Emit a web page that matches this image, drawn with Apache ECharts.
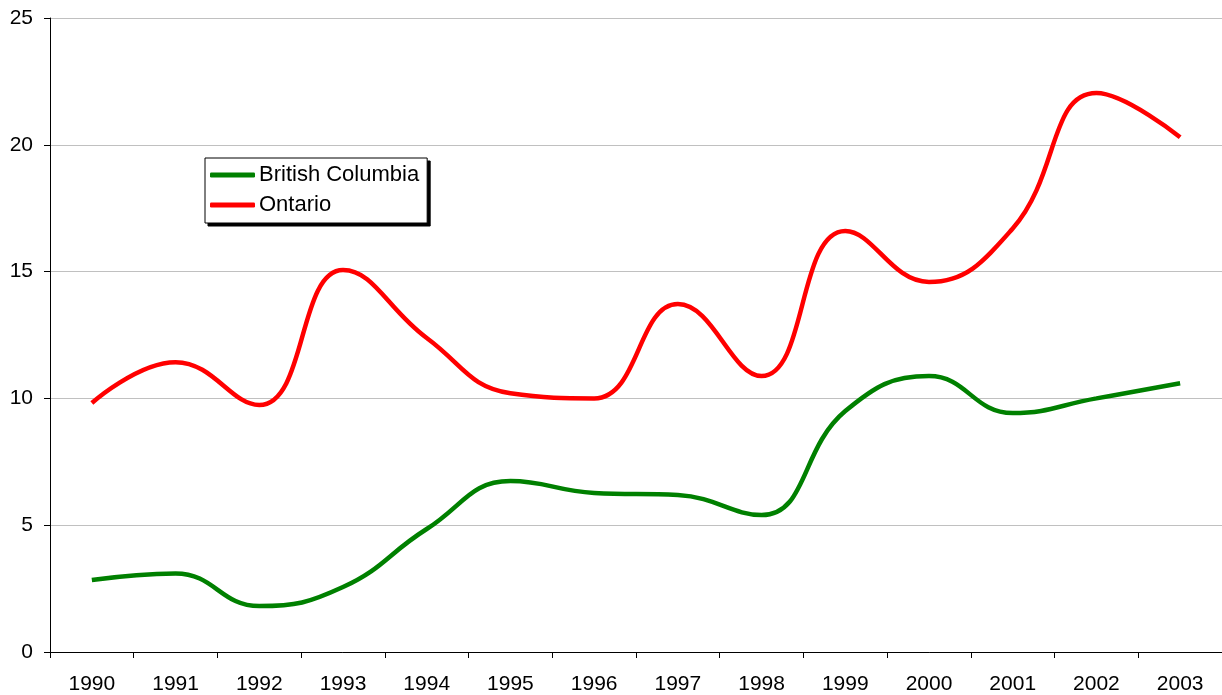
<!DOCTYPE html>
<html>
<head>
<meta charset="utf-8">
<script src="https://cdn.jsdelivr.net/npm/echarts@6/dist/echarts.min.js"></script>
<style>
  html, body { margin: 0; padding: 0; background: #fff; }
  #chart { width: 1222px; height: 695px; }
</style>
</head>
<body>
<div id="chart"></div>
<script>
// Chart data
const years = ['1990', '1991', '1992', '1993', '1994', '1995', '1996',
               '1997', '1998', '1999', '2000', '2001', '2002', '2003'];
const britishColumbia = [2.84, 3.1, 1.81, 2.56, 4.85, 6.74, 6.27, 6.19, 5.4, 9.5, 10.88, 9.42, 10.0, 10.6];
const ontario = [9.82, 11.43, 9.74, 15.06, 12.38, 10.2, 10.0, 13.72, 10.88, 16.6, 14.59, 16.7, 22.04, 20.3];
const yTicks = [0, 5, 10, 15, 20, 25];
const seriesNames = ['British Columbia', 'Ontario'];

const font = 'Liberation Sans, Arial, sans-serif';
const fontSize = 21;

// Shared legend settings (a solid black copy sits behind to act as drop shadow)
function makeLegend(left, top, isShadow) {
    return {
        orient: 'vertical',
        left: left,
        top: top,
        z: isShadow ? 3 : 4,
        padding: [6, 8, 7, 5],
        itemWidth: 45,
        itemHeight: 5,
        itemGap: 8,
        icon: 'roundRect',
        selectedMode: !isShadow,
        backgroundColor: isShadow ? '#000' : '#fff',
        borderColor: '#000',
        borderWidth: 1,
        borderRadius: 0,
        itemStyle: isShadow ? { opacity: 0 } : {},
        textStyle: {
            fontFamily: font,
            fontSize: 22,
            color: isShadow ? 'rgba(0,0,0,0)' : '#000',
            padding: [0, 0, 0, -1]
        },
        data: seriesNames
    };
}

const chart = echarts.init(document.getElementById('chart'));

chart.setOption({
    animation: false,
    backgroundColor: '#fff',
    grid: {
        left: 50,
        right: 0,
        top: 18,
        bottom: 43
    },
    legend: [
        makeLegend(208, 161, true),
        makeLegend(205, 158, false)
    ],
    xAxis: {
        type: 'category',
        data: years,
        boundaryGap: true,
        axisLine: { lineStyle: { color: '#000', width: 1 } },
        axisTick: { show: true, length: 6, lineStyle: { color: '#000' } },
        axisLabel: { fontFamily: font, fontSize: fontSize, color: '#000', margin: 22 },
        splitLine: { show: false }
    },
    yAxis: {
        type: 'value',
        min: yTicks[0],
        max: yTicks[yTicks.length - 1],
        interval: 5,
        axisLine: { show: true, lineStyle: { color: '#000', width: 1 } },
        axisTick: { show: true, length: 6, inside: false, lineStyle: { color: '#000' } },
        axisLabel: { fontFamily: font, fontSize: fontSize, color: '#000', margin: 17 },
        splitLine: { show: true, lineStyle: { color: '#c0c0c0', width: 1 } }
    },
    series: [
        {
            name: seriesNames[0],
            type: 'line',
            data: britishColumbia,
            smooth: 0.45,
            showSymbol: false,
            symbol: 'none',
            color: '#008000',
            lineStyle: { color: '#008000', width: 4.5 }
        },
        {
            name: seriesNames[1],
            type: 'line',
            data: ontario,
            smooth: 0.45,
            showSymbol: false,
            symbol: 'none',
            color: '#ff0000',
            lineStyle: { color: '#ff0000', width: 4.5 }
        }
    ]
});
</script>
</body>
</html>
